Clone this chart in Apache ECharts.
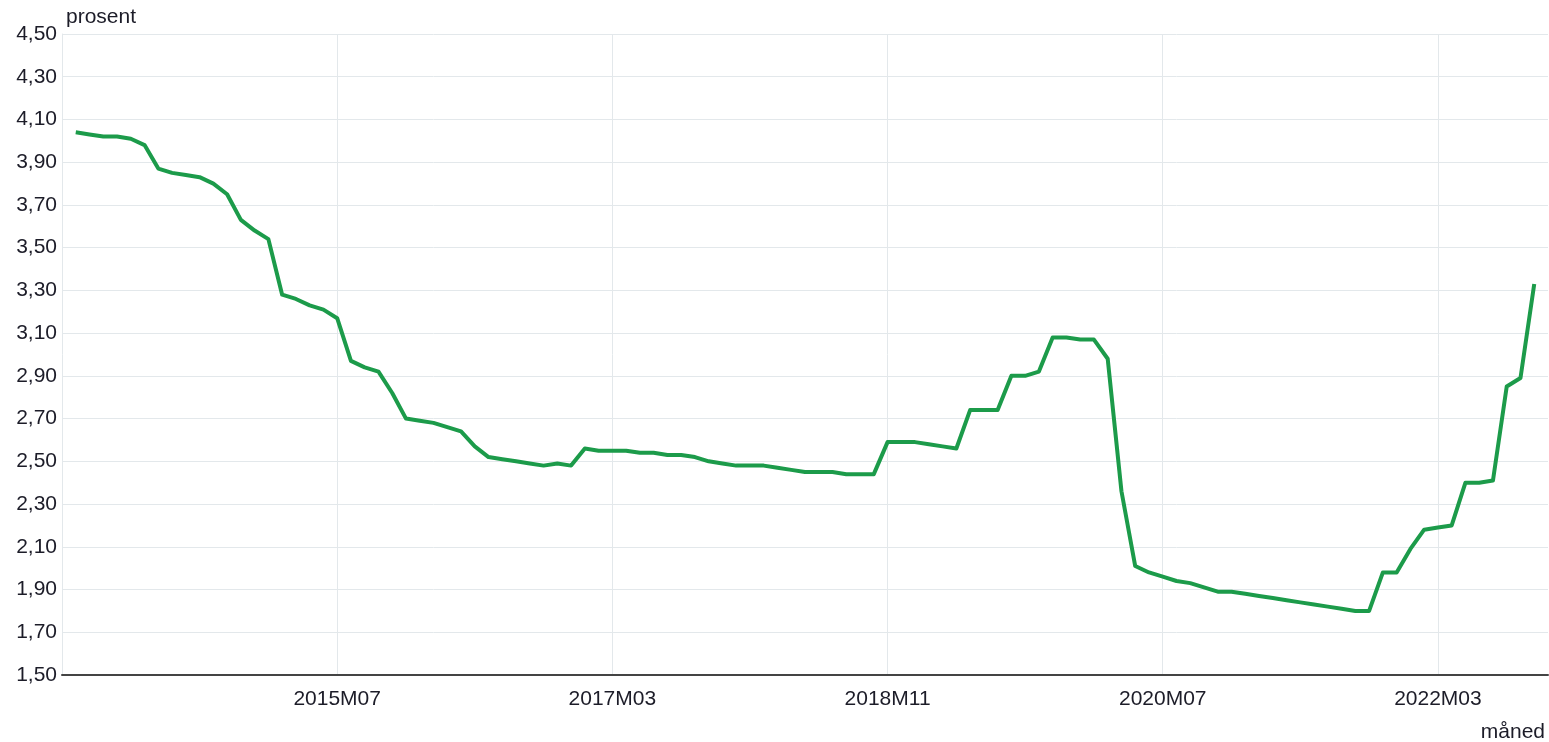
<!DOCTYPE html>
<html>
<head>
<meta charset="utf-8">
<script src="https://cdn.jsdelivr.net/npm/echarts@6/dist/echarts.min.js"></script>
<style>
  html, body { margin: 0; padding: 0; background: #fff; }
  #chart { width: 1549px; height: 742px; }
</style>
</head>
<body>
<div id="chart"></div>
<script>
// første måned i serien, resten følger måned for måned
const startYear = 2013;
const startMonth = 12;

// prosent, én verdi per måned (2013M12 - 2022M10)
const values = [
  4.04, 4.03, 4.02, 4.02, 4.01, 3.98, 3.87, 3.85, 3.84, 3.83,
  3.80, 3.75, 3.63, 3.58, 3.54, 3.28, 3.26, 3.23, 3.21, 3.17,
  2.97, 2.94, 2.92, 2.82, 2.70, 2.69, 2.68, 2.66, 2.64, 2.57,
  2.52, 2.51, 2.50, 2.49, 2.48, 2.49, 2.48, 2.56, 2.55, 2.55,
  2.55, 2.54, 2.54, 2.53, 2.53, 2.52, 2.50, 2.49, 2.48, 2.48,
  2.48, 2.47, 2.46, 2.45, 2.45, 2.45, 2.44, 2.44, 2.44, 2.59,
  2.59, 2.59, 2.58, 2.57, 2.56, 2.74, 2.74, 2.74, 2.90, 2.90,
  2.92, 3.08, 3.08, 3.07, 3.07, 2.98, 2.36, 2.01, 1.98, 1.96,
  1.94, 1.93, 1.91, 1.89, 1.89, 1.88, 1.87, 1.86, 1.85, 1.84,
  1.83, 1.82, 1.81, 1.80, 1.80, 1.98, 1.98, 2.09, 2.18, 2.19,
  2.20, 2.40, 2.40, 2.41, 2.85, 2.89, 3.33
];

const tickLabels = ['2015M07', '2017M03', '2018M11', '2020M07', '2022M03'];

// måned nr. 1 = startmåneden, 0 og length+1 er luft i kantene
const months = [''];
for (let i = 0; i < values.length; i++) {
  const m = startMonth - 1 + i;
  const y = startYear + Math.floor(m / 12);
  const mm = (m % 12) + 1;
  months.push(y + 'M' + (mm < 10 ? '0' + mm : mm));
}

const seriesData = values.map((v, i) => [i + 1, v]);
const tickIdx = tickLabels.map(s => months.indexOf(s));

const font = 'Arial, "Liberation Sans", sans-serif';
const gridColor = '#e3e8eb';
const textColor = '#1c1c28';

const chart = echarts.init(document.getElementById('chart'));
chart.setOption({
  animation: false,
  grid: { left: 62, right: 1, top: 34, bottom: 67, containLabel: false },
  xAxis: {
    type: 'value',
    min: 0,
    max: values.length + 1,
    axisLine: { show: true, onZero: false, lineStyle: { color: '#444', width: 2 } },
    axisTick: { show: false, customValues: tickIdx },
    splitLine: { show: true, lineStyle: { color: gridColor, width: 1 } },
    axisLabel: {
      show: true,
      customValues: tickIdx,
      margin: 14,
      fontSize: 21,
      fontFamily: font,
      color: textColor,
      formatter: function (v) { return months[Math.round(v)] || ''; }
    }
  },
  yAxis: {
    type: 'value',
    min: 1.5,
    max: 4.5,
    interval: 0.2,
    axisLine: { show: true, lineStyle: { color: gridColor, width: 1 } },
    axisTick: { show: false },
    splitLine: { show: true, lineStyle: { color: gridColor, width: 1 } },
    axisLabel: {
      margin: 5,
      fontSize: 21,
      fontFamily: font,
      color: textColor,
      formatter: function (v) { return v.toFixed(2).replace('.', ','); }
    }
  },
  graphic: [{
    type: 'text',
    left: 66,
    top: 7,
    style: { text: 'prosent', fontSize: 21, fontFamily: font, fill: textColor }
  }, {
    type: 'text',
    right: 4,
    top: 722,
    style: { text: 'måned', fontSize: 21, fontFamily: font, fill: textColor }
  }],
  series: [{
    type: 'line',
    data: seriesData,
    symbol: 'none',
    smooth: false,
    lineStyle: { color: '#1c9b4a', width: 4, join: 'round' }
  }]
});
</script>
</body>
</html>
